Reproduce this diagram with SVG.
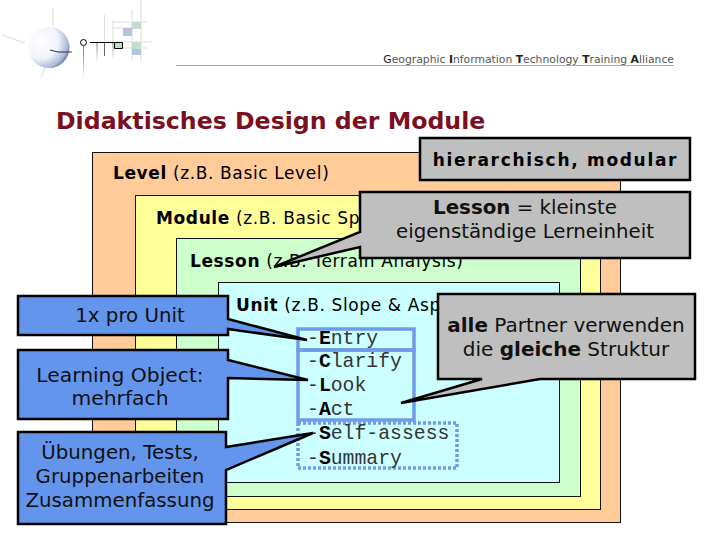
<svg xmlns="http://www.w3.org/2000/svg" width="720" height="540" viewBox="0 0 720 540">
<style>
text{font-family:"DejaVu Sans","Liberation Sans",sans-serif;fill:#000;text-anchor:middle}
.l{text-anchor:start;font-size:17px;letter-spacing:.62px}
.c{font-size:19.800px;fill:#111}
.m{font-family:"Liberation Mono",monospace;font-size:19.800px;text-anchor:start;fill:#333}
.m tspan{font-weight:bold;fill:#000}
.bold{font-weight:bold}
.box{stroke:#111;stroke-width:1}
.gray{fill:#bfbfbf;stroke:#000;stroke-width:2.5}
.blue{fill:#6495ed;stroke:#000;stroke-width:2.5}
.frame{fill:none;stroke:#6f9be8;stroke-width:3.5}
.logo{stroke:#ddd;stroke-width:1;fill:none}
.dk{stroke:#333;stroke-width:1;fill:none}
</style>
<defs>
<radialGradient id="sph" cx="0.3" cy="0.35" r="0.78">
<stop offset="0" stop-color="#fff"/><stop offset="0.55" stop-color="#f0f3fa"/><stop offset="0.85" stop-color="#a9b8d8"/><stop offset="1" stop-color="#4c5f88"/>
</radialGradient>
<linearGradient id="fade" x1="0" y1="0" x2="0" y2="1"><stop offset="0" stop-color="#777"/><stop offset="1" stop-color="#fff"/></linearGradient>
</defs>
<rect width="720" height="540" fill="#fff"/>
<g id="logo">
<path class="logo" d="M2 35L25 43M53 8V26M45 68L41 78M104.500 15V42M113 20V42M132 10V60M141 0V62M113 22H147M112 28H143M113 42H152M115 48H147"/>
<rect x="132" y="22" width="9" height="7" fill="#c4dccf"/>
<rect x="123" y="28" width="9" height="8" fill="#b4c4dc"/>
<rect x="132" y="42" width="9" height="7" fill="#c4dccf"/>
<rect x="132" y="49" width="9" height="6" fill="#b4c4dc"/>
<circle cx="49" cy="47.500" r="20.500" fill="url(#sph)"/>
<path class="dk" d="M50 50L58 52H72"/>
<circle cx="83.500" cy="42.500" r="3" fill="#fff" stroke="#000" stroke-width="1"/>
<rect x="83" y="46" width="1" height="34" fill="url(#fade)"/>
<rect x="96.500" y="43" width="1" height="20" fill="url(#fade)"/>
<rect x="104" y="43" width="1" height="13" fill="#666"/>
<rect x="112.500" y="43" width="1" height="17" fill="url(#fade)"/>
<path d="M114.500 42.500V48.500H122.500V42.500" fill="#c4dccf" stroke="#000"/>
<path d="M90 42.500H122.500" stroke="#000" fill="none"/>
</g>
<g id="header">
<line x1="176" y1="65.500" x2="674" y2="65.500" stroke="#aaa"/>
<text x="674" y="63" style="font-size:10.800px;text-anchor:end;fill:#555"><tspan fill="#222">G</tspan>eographic <tspan fill="#222" class="bold">I</tspan>nformation <tspan fill="#222" class="bold">T</tspan>echnology <tspan fill="#222" class="bold">T</tspan>raining <tspan fill="#222" class="bold">A</tspan>lliance</text>
</g>
<text id="title" x="56" y="129" class="bold" style="font-size:23.650px;text-anchor:start;fill:#7a1020">Didaktisches Design der Module</text>
<g id="level"><rect class="box" x="92.500" y="152.500" width="528" height="370" fill="#ffcc99"/><text class="l" x="113" y="179"><tspan class="bold">Level</tspan> (z.B. Basic Level)</text></g>
<g id="module"><rect class="box" x="135.500" y="195.500" width="465" height="314" fill="#ffff99"/><text class="l" x="156" y="224"><tspan class="bold">Module</tspan> (z.B. Basic Sp</text></g>
<g id="lesson"><rect class="box" x="176.500" y="238.500" width="404" height="258" fill="#ccffcc"/><text class="l" x="190" y="267"><tspan class="bold">Lesson</tspan> (z.B. Terrain Analysis)</text></g>
<g id="unit"><rect class="box" x="218.500" y="282.500" width="341" height="200" fill="#ccffff"/><text class="l" x="236" y="311"><tspan class="bold">Unit</tspan> (z.B. Slope &amp; Asp</text>
<rect class="frame" x="298" y="329" width="116" height="21"/>
<rect class="frame" x="298" y="350" width="116" height="70"/>
<rect class="frame" x="298" y="423" width="159" height="45" style="stroke-dasharray:3 2"/>
<text class="m" x="307" y="344">-<tspan>E</tspan>ntry</text>
<text class="m" x="307" y="367">-<tspan>C</tspan>larify</text>
<text class="m" x="307" y="391">-<tspan>L</tspan>ook</text>
<text class="m" x="307" y="415">-<tspan>A</tspan>ct</text>
<text class="m" x="307" y="439">-<tspan>S</tspan>elf-assess</text>
<text class="m" x="307" y="464">-<tspan>S</tspan>ummary</text>
</g>
<g id="connectors"></g>
<g id="note-hier"><rect class="gray" x="420" y="138" width="270" height="42"/><text class="bold" x="555.500" y="166" style="font-size:17px;letter-spacing:1.700px">hierarchisch, modular</text></g>
<g id="note-lesson"><path class="gray" d="M360 192H690V258H360V247L274 267L360 232Z"/><text class="c" x="525" y="214"><tspan class="bold">Lesson</tspan> = kleinste</text><text class="c" x="525" y="238">eigenständige Lerneinheit</text></g>
<g id="note-alle"><path class="gray" d="M438 294H695V379H540L401 403L482 379H438Z"/><text class="c" x="566" y="332" style="font-size:20px"><tspan class="bold">alle</tspan> Partner verwenden</text><text class="c" x="566" y="356" style="font-size:20px">die <tspan class="bold">gleiche</tspan> Struktur</text></g>
<g id="note-unit"><path class="blue" d="M18 296H228V319L307 340L228 329V335H18Z"/><text class="c" x="130" y="322">1x pro Unit</text></g>
<g id="note-lo"><path class="blue" d="M18 350H228V360L308 380L228 378V419H18Z"/><text class="c" x="120" y="382" style="font-size:20.300px">Learning Object:</text><text class="c" x="120" y="405" style="font-size:20.300px">mehrfach</text></g>
<g id="note-ueb"><path class="blue" d="M18 432H226V447L313 433L226 470V524H18Z"/><text class="c" x="120" y="459">Übungen, Tests,</text><text class="c" x="120" y="483">Gruppenarbeiten</text><text class="c" x="120" y="507">Zusammenfassung</text></g>
</svg>
